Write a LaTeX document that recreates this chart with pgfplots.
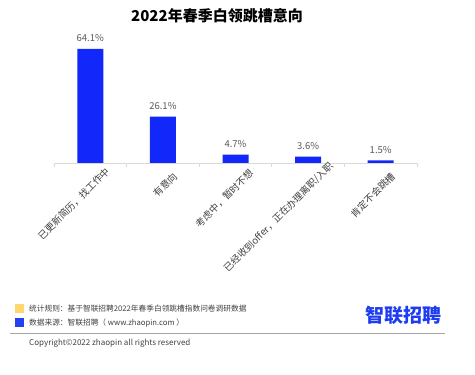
\documentclass[border=0pt]{standalone}
\usepackage{pgfplots}
\pgfplotsset{compat=1.18}
\usepackage{fontspec}
\setmainfont{Noto Sans CJK SC}
\definecolor{barblue}{RGB}{18,40,250}
\definecolor{logoblue}{RGB}{30,60,240}
\definecolor{sqyellow}{RGB}{255,215,110}
\definecolor{sqblue}{RGB}{35,65,240}
\definecolor{txtgray}{RGB}{64,64,64}
\definecolor{valgray}{RGB}{89,89,89}
\definecolor{axgray}{RGB}{217,217,217}
\begin{document}
\begin{tikzpicture}[x=1pt,y=1pt]
\useasboundingbox (0,0) rectangle (475,375);
\begin{axis}[
  at={(54pt,212pt)}, anchor=south west,
  scale only axis, width=363pt, height=124.5pt,
  xmin=-0.5, xmax=4.5, ymin=0, ymax=70,
  axis y line=none,
  axis x line*=bottom,
  x axis line style={draw=axgray, line width=0.8pt, -},
  xtick={0,1,2,3,4},
  xticklabels={已更新简历，找工作中, 有意向, 考虑中，暂时不想, 已经收到offer，正在办理离职/入职, 肯定不会跳槽},
  major tick length=0pt,
  minor xtick={-0.5,0.5,1.5,2.5,3.5,4.5},
  minor tick length=4pt,
  tick align=outside,
  minor tick style={draw=axgray, line width=0.8pt},
  xticklabel style={rotate=45, anchor=north east, font=\fontsize{9.6}{10}\selectfont, text=txtgray,
    xshift={ {11,4,9,19,4}[\ticknum]*1pt }, yshift=-9pt},
  ybar, bar width=26pt,
  /pgf/number format/assume math mode=true,
  nodes near coords={\pgfmathprintnumber[fixed,precision=1,fixed zerofill]{\pgfplotspointmeta}\%},
  every node near coord/.append style={font=\fontsize{9.5}{10}\selectfont, text=valgray, yshift=3.5pt},
  title={2022年春季白领跳槽意向},
  title style={at={(axis description cs:0.449,1)}, anchor=center, yshift=16.5pt, font=\fontsize{15}{16}\selectfont\bfseries},
  clip=false,
]
\addplot[fill=barblue, draw=none] coordinates {(0,64.1) (1,26.1) (2,4.7) (3,3.6) (4,1.5)};
\end{axis}
\fill[sqyellow] (15,62) rectangle (24,71);
\node[anchor=west, inner sep=2pt, font=\fontsize{7.7}{9}\selectfont, text=txtgray] at (27,66) {统计规则：基于智联招聘2022年春季白领跳槽指数问卷调研数据};
\fill[sqblue] (15,48) rectangle (24,57);
\node[anchor=west, inner sep=2pt, font=\fontsize{7.7}{9}\selectfont, text=txtgray] at (27,52) {数据来源：智联招聘（ www.zhaopin.com ）};
\node[anchor=east, inner sep=0pt, font=\fontsize{19}{20}\selectfont\bfseries, text=logoblue] at (442,60) {智联招聘};
\draw[gray!70, line width=1pt] (10,41) -- (445,41);
\node[anchor=west, inner sep=2pt, font=\fontsize{8}{9}\selectfont, text=txtgray] at (27,32) {Copyright©2022 zhaopin all rights reserved};
\end{tikzpicture}
\end{document}
